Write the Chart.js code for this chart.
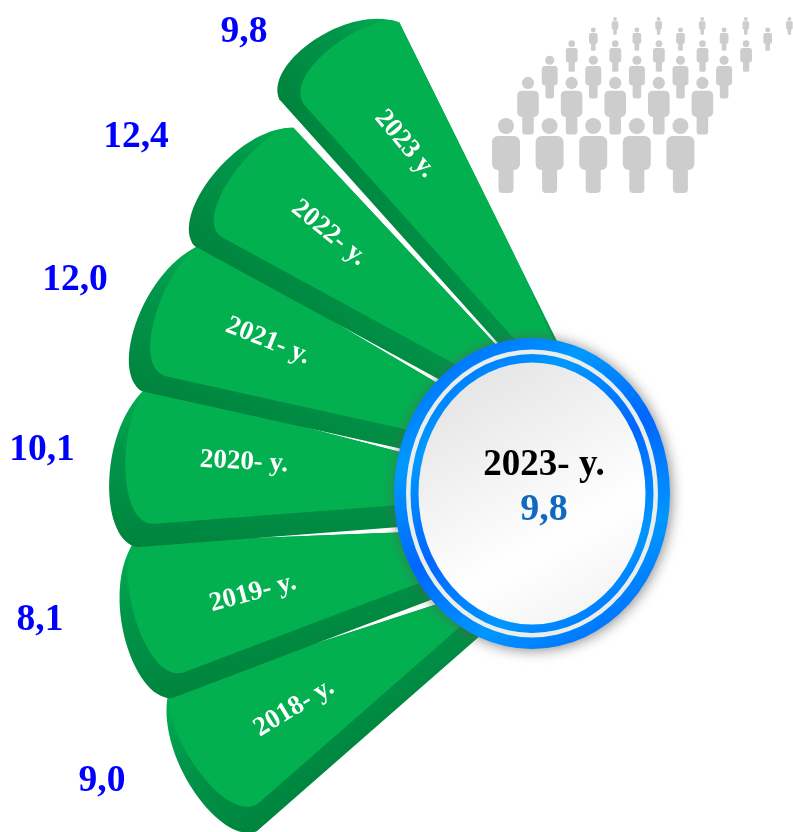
<!DOCTYPE html>
<html lang="en">
<head>
  <meta charset="UTF-8" />
  <meta name="viewport" content="width=device-width, initial-scale=1" />
  <title>2023- y. 9,8</title>
  <script src="https://cdn.jsdelivr.net/npm/chart.js"></script>
  <style>
    html, body {
      margin: 0;
      background: #fff;
      overflow: hidden;
    }

    canvas {
      display: block;
    }
  </style>
</head>
<body>

  <canvas id="fan-chart" width="793" height="832"></canvas>

  <script>
    // bottom blade first, the doughnut runs clockwise
    const years = ['2018- y.', '2019- y.', '2020- y.', '2021- y.', '2022- y.', '2023 y.'];
    const values = [9.0, 8.1, 10.1, 12.0, 12.4, 9.8];
    const bladeShares = [18.5, 18.3, 18.2, 17.8, 18.2, 16.8];
    const restOfCircle = [252.2]; // invisible slice that closes the doughnut
    const centerYear = '2023- y.';
    const centerValue = 9.8;

    // text placement: x, y (baseline), rotation
    const valueSpots = [[102, 791], [40, 630], [42, 460], [75, 290], [136, 147], [244, 42]];
    const yearSpots = [[294, 708, -31], [253, 593, -15], [244, 462, 3], [268, 341, 22], [329, 233, 39], [405, 144, 50]];

    const bladeOffsets = [3, 2, 0, 5, 11, 42, 0];
    const bandWidths = [20, 20, 22, 20, 21, 15];
    // the blades don't share one exact apex: degrees each edge turns by the hub
    const lowerTilts = [-1, -3.3, -1, 0.6, 2.7, 1.1];
    const upperTilts = [-4.5, -2.3, -0.1, 2.4, 2.5, 2.6];
    // how far a blade's tip slides under the blade above it
    const tipOverlaps = [1.0, 0.6, 0.8, 1.0, 0, 0];

    // people: first x, head centre y, scale
    const peopleRows = [
      [615, 19, 0.236], [593.3, 30, 0.31], [571.7, 43.7, 0.42],
      [549.7, 60.3, 0.57], [528, 83, 0.77], [506, 126, 1]
    ];

    const fmt = v => v.toFixed(1).replace('.', ',');
    const rad = d => d * Math.PI / 180;

    function drawPerson(ctx, x, y, s) {
      ctx.beginPath();
      ctx.arc(x, y, 8 * s, 0, Math.PI * 2);
      ctx.fill();
      ctx.beginPath();
      ctx.roundRect(x - 14 * s, y + 10 * s, 28 * s, 34 * s, 6 * s);
      ctx.fill();
      ctx.beginPath();
      ctx.roundRect(x - 7.5 * s, y + 30 * s, 15 * s, 37 * s, 4 * s);
      ctx.fill();
    }

    function drawBlade(ctx, el, i) {
      const R = el.outerRadius;
      const a0 = el.startAngle;
      const a1 = el.endAngle;
      const w = a1 - a0;
      const mid = (a0 + a1) / 2;
      const off = el.options.offset || 0;
      const ox = el.x + Math.cos(mid) * off;
      const oy = el.y + Math.sin(mid) * off;
      const band = bandWidths[i];
      const pt = (a, r) => [ox + Math.cos(a) * r, oy + Math.sin(a) * r];
      // carry a line from a through b and on past the hub edge
      const past = (a, b, k) => [a[0] + (b[0] - a[0]) * k, a[1] + (b[1] - a[1]) * k];

      const lo = pt(a0, R);
      const hi = pt(a1 + rad(tipOverlaps[i]), R);
      const loHub = pt(a0 + rad(lowerTilts[i]), 220);
      const hiHub = pt(a1 + rad(upperTilts[i]), 220);
      const loEnd = past(lo, loHub, 1.4);
      const hiEnd = past(hi, hiHub, 1.4);

      // unit vectors along the lower edge and across it
      const len = Math.hypot(loHub[0] - lo[0], loHub[1] - lo[1]);
      const dx = (loHub[0] - lo[0]) / len;
      const dy = (loHub[1] - lo[1]) / len;
      const bandPt = (s, t) => [lo[0] + dx * s + dy * t, lo[1] + dy * s - dx * t];

      const shade = ctx.createLinearGradient(lo[0], lo[1], hi[0], hi[1]);
      shade.addColorStop(0, '#00843d');
      shade.addColorStop(0.6, '#00964a');
      shade.addColorStop(1, '#00b050');

      ctx.save();
      ctx.beginPath();
      ctx.moveTo(...loEnd);
      ctx.lineTo(...lo);
      ctx.bezierCurveTo(...pt(a0 + w * 0.08, R + 38), ...pt(a0 + w * 0.75, R + 40), ...hi);
      ctx.lineTo(...hiEnd);
      ctx.closePath();
      ctx.fillStyle = shade;
      ctx.fill();
      ctx.clip();

      // lighter top layer, inset from the lower edge and the round end
      ctx.beginPath();
      ctx.moveTo(...bandPt(len * 1.4, band));
      ctx.lineTo(...bandPt(20, band));
      ctx.bezierCurveTo(...pt(a0 + w * 0.14, R + 18), ...pt(a0 + w * 0.8, R + 24), ...pt(a1 + rad(1), R));
      ctx.lineTo(...past(pt(a1 + rad(1), R), hiHub, 1.4));
      ctx.closePath();
      ctx.fillStyle = '#02b050';
      ctx.fill();
      ctx.restore();
    }

    function drawHub(ctx) {
      const cx = 532;
      const cy = 493.5;
      const ringGrad = ctx.createLinearGradient(cx - 100, cy - 155, cx + 100, cy + 155);
      ['#0066ff', '#0099ff', '#0066ff', '#0096ff', '#0066ff'].forEach((c, i) => ringGrad.addColorStop(i / 4, c));

      ctx.save();
      ctx.shadowColor = 'rgba(90,90,90,0.75)';
      ctx.shadowBlur = 14;
      ctx.shadowOffsetX = 1;
      ctx.shadowOffsetY = 1;
      ctx.fillStyle = ringGrad;
      ctx.beginPath();
      ctx.ellipse(cx, cy, 138, 155.5, 0, 0, Math.PI * 2);
      ctx.fill();
      ctx.restore();

      // thin pale gap between the two blue rings
      ctx.fillStyle = '#e9eeea';
      ctx.beginPath();
      ctx.ellipse(cx, cy, 126, 144, 0, 0, Math.PI * 2);
      ctx.fill();

      ctx.fillStyle = ringGrad;
      ctx.beginPath();
      ctx.ellipse(cx, cy, 121.5, 139.5, 0, 0, Math.PI * 2);
      ctx.fill();

      const disc = ctx.createLinearGradient(cx - 85, cy - 130, cx + 60, cy + 130);
      disc.addColorStop(0, '#e2e2e2');
      disc.addColorStop(0.7, '#ffffff');
      disc.addColorStop(1, '#f3f3f3');
      ctx.fillStyle = disc;
      ctx.beginPath();
      ctx.ellipse(cx, cy, 113.5, 131, 0, 0, Math.PI * 2);
      ctx.fill();

      ctx.textAlign = 'center';
      ctx.textBaseline = 'alphabetic';
      ctx.font = 'bold 37px "Liberation Serif"';
      ctx.fillStyle = '#000';
      ctx.fillText(centerYear, 544, 475);
      ctx.font = 'bold 38px "Liberation Serif"';
      ctx.fillStyle = '#0f69c0';
      ctx.fillText(fmt(centerValue), 544, 520);
    }

    const fanArt = {
      id: 'fanArt',
      // the fan's apex sits right of the hub, so its full circle runs off the canvas
      afterLayout(chart) {
        chart.chartArea = { left: 113, top: -6, right: 1131, bottom: 1012, width: 1018, height: 1018 };
      },
      beforeDatasetsDraw(chart) {
        const ctx = chart.ctx;
        ctx.fillStyle = '#cdcdcd';
        peopleRows.forEach(([x, y, s]) => {
          for (let col = 0; col < 5; col++) {
            drawPerson(ctx, x + col * 43.6, y, s);
          }
        });
      },
      beforeDatasetDraw(chart) {
        const ctx = chart.ctx;
        const arcs = chart.getDatasetMeta(0).data;
        years.forEach((year, i) => drawBlade(ctx, arcs[i], i));
        return false;
      },
      afterDatasetsDraw(chart) {
        const ctx = chart.ctx;
        drawHub(ctx);

        ctx.textAlign = 'center';
        ctx.textBaseline = 'alphabetic';
        ctx.fillStyle = '#0000ff';
        ctx.font = 'bold 37.5px "Liberation Serif"';
        values.forEach((v, i) => {
          ctx.fillText(fmt(v), valueSpots[i][0], valueSpots[i][1]);
        });

        ctx.textBaseline = 'middle';
        ctx.fillStyle = '#ffffff';
        ctx.font = 'bold 27px "Liberation Serif"';
        years.forEach((year, i) => {
          const [x, y, turn] = yearSpots[i];
          ctx.save();
          ctx.translate(x, y);
          ctx.rotate(rad(turn));
          ctx.fillText(year, 0, 0);
          ctx.restore();
        });
      }
    };

    new Chart(document.getElementById('fan-chart'), {
      type: 'doughnut',
      data: {
        labels: [...years, ''],
        datasets: [{
          data: [...bladeShares, ...restOfCircle],
          backgroundColor: 'transparent',
          borderWidth: 0,
          offset: bladeOffsets
        }]
      },
      options: {
        responsive: false,
        animation: false,
        cutout: 0,
        rotation: 228,
        plugins: {
          legend: { display: false },
          tooltip: { enabled: false }
        }
      },
      plugins: [fanArt]
    });
  </script>

</body>
</html>
